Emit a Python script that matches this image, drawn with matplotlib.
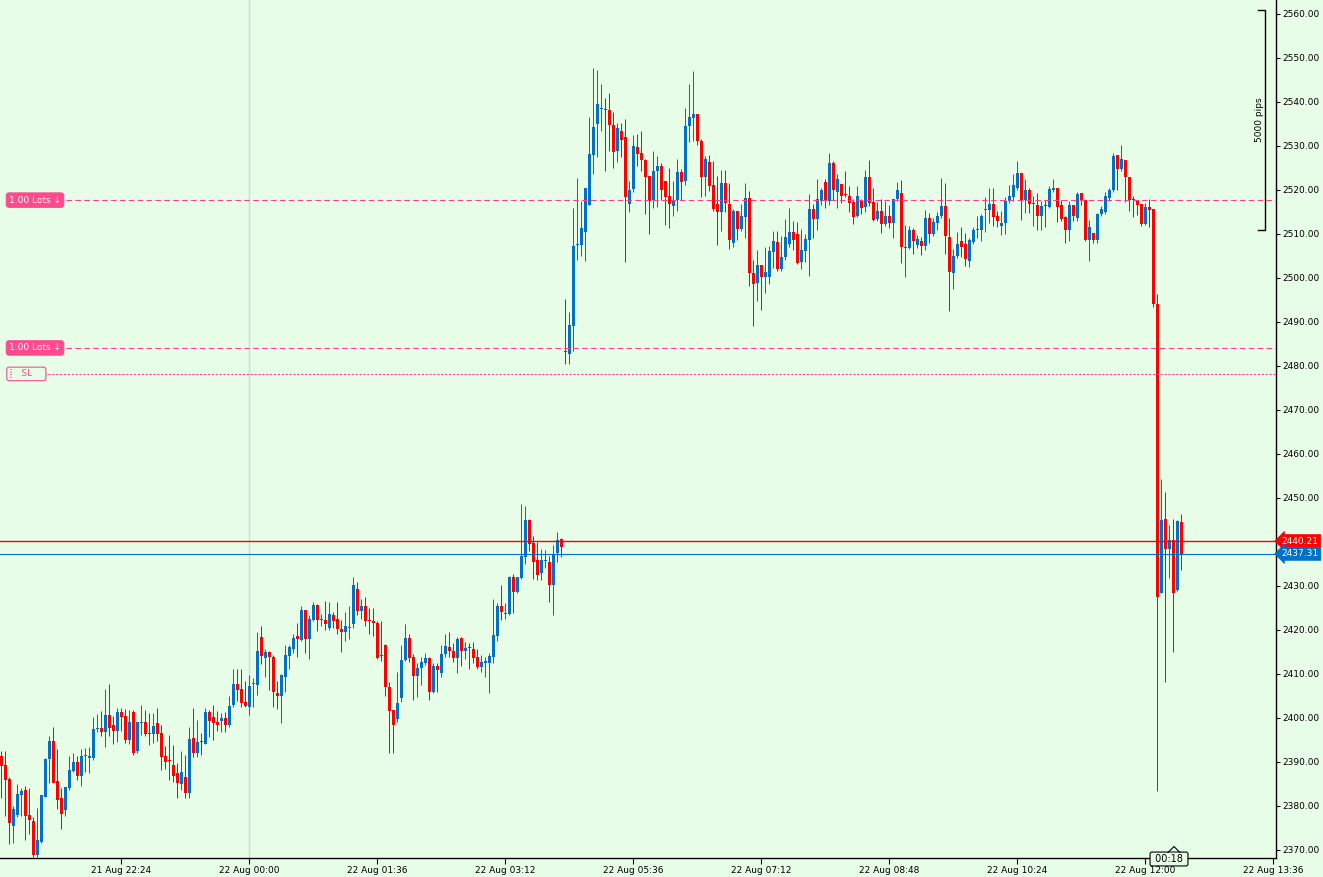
import matplotlib
matplotlib.use("Agg")
import matplotlib.pyplot as plt
from matplotlib.transforms import blended_transform_factory
from matplotlib.lines import Line2D
import numpy as np

opens = [2391.4,2389.3,2386.2,2375.5,2378.0,2382.4,2383.7,2378.0,2376.6,2368.8,
2371.9,2382.1,2390.6,2394.8,2385.7,2381.9,2379.0,2384.2,2388.0,2389.9,
2386.9,2391.3,2391.0,2391.0,2397.4,2397.7,2396.9,2400.7,2398.4,2397.1,
2401.3,2400.5,2394.9,2401.3,2392.4,2398.9,2399.2,2396.4,2396.4,2398.8,
2396.5,2391.4,2390.3,2389.3,2387.4,2385.0,2386.7,2383.0,2395.5,2392.1,
2394.7,2394.2,2401.4,2400.3,2399.2,2399.4,2400.1,2398.3,2402.9,2407.7,
2406.6,2403.6,2402.4,2407.8,2407.4,2418.4,2413.6,2415.0,2413.9,2405.6,
2404.9,2409.4,2414.2,2415.7,2418.6,2417.7,2424.5,2418.0,2422.3,2425.7,
2422.2,2422.3,2420.5,2423.4,2422.5,2420.2,2419.5,2420.5,2421.4,2429.3,
2424.3,2425.5,2422.2,2421.8,2421.7,2414.1,2416.6,2407.1,2401.8,2399.8,
2404.5,2413.2,2418.2,2413.9,2409.6,2411.3,2412.6,2413.6,2406.0,2411.8,
2410.3,2414.5,2416.1,2415.2,2413.7,2418.2,2415.2,2416.0,2415.7,2413.8,
2411.5,2412.6,2412.6,2413.9,2418.7,2425.5,2423.6,2423.6,2432.0,2428.7,
2431.9,2436.7,2445.0,2439.8,2435.9,2432.9,2435.7,2435.5,2430.2,2437.4,
2440.6,2483.2,2482.7,2489.2,2507.4,2507.4,2510.5,2516.6,2528.0,2535.0,
2538.3,2538.2,2538.1,2534.8,2528.9,2533.4,2532.0,2516.8,2520.2,2529.7,
2528.3,2526.8,2523.2,2517.7,2524.3,2525.4,2522.0,2518.6,2516.4,2517.7,
2524.2,2522.1,2534.5,2536.4,2537.3,2531.1,2522.9,2526.4,2521.1,2516.8,
2515.1,2521.7,2516.8,2508.0,2515.2,2511.1,2513.9,2518.2,2501.1,2498.9,
2503.0,2500.3,2500.3,2506.0,2508.2,2502.0,2504.7,2507.8,2510.4,2510.0,
2503.7,2506.1,2508.6,2515.7,2513.4,2517.6,2521.8,2517.6,2526.1,2519.6,
2521.4,2518.9,2518.6,2517.3,2514.1,2517.7,2516.2,2522.9,2517.3,2513.3,
2515.2,2512.2,2514.0,2512.6,2517.9,2519.3,2506.9,2506.9,2510.9,2507.4,
2508.4,2507.3,2513.6,2510.1,2512.6,2514.1,2516.4,2509.3,2501.2,2505.0,
2508.4,2507.7,2503.9,2508.2,2510.8,2510.9,2515.5,2515.5,2516.8,2514.1,
2511.8,2512.4,2517.6,2518.3,2520.5,2523.9,2517.7,2520.0,2516.9,2516.6,
2514.2,2516.4,2516.2,2520.1,2520.4,2516.6,2513.9,2510.9,2516.6,2513.6,
2519.3,2517.7,2508.6,2510.2,2508.6,2514.5,2515.0,2518.1,2520.0,2528.0,
2524.8,2526.8,2522.9,2517.9,2517.7,2516.8,2512.3,2516.1,2515.7,2494.1,
2428.5,2445.3,2438.5,2440.4,2429.0,2444.6]

highs = [2392.4,2392.6,2386.5,2380.0,2385.0,2384.2,2384.6,2384.1,2377.6,2379.6,
2382.6,2391.0,2395.9,2397.9,2392.9,2384.2,2384.4,2391.4,2392.0,2391.4,
2392.9,2393.1,2393.3,2400.3,2400.9,2401.6,2406.6,2407.7,2400.5,2402.2,
2402.2,2402.1,2401.8,2401.8,2399.2,2403.0,2401.8,2401.1,2401.1,2402.2,
2398.4,2393.7,2396.2,2393.9,2389.7,2392.4,2391.6,2398.0,2402.2,2399.6,
2396.7,2402.3,2401.8,2403.0,2401.7,2401.1,2401.4,2405.0,2411.1,2411.1,
2411.1,2408.3,2409.8,2409.2,2419.6,2420.9,2415.6,2415.3,2414.3,2408.4,
2410.0,2416.6,2416.6,2419.0,2421.7,2425.5,2424.6,2423.3,2426.3,2425.8,
2423.6,2426.6,2426.4,2424.2,2426.4,2422.3,2424.0,2425.5,2432.1,2430.8,
2427.0,2427.6,2425.1,2424.9,2422.0,2422.0,2416.8,2408.1,2401.8,2410.5,
2416.6,2421.4,2419.2,2414.6,2412.4,2413.8,2414.7,2413.8,2412.4,2412.4,
2416.6,2419.2,2419.5,2417.0,2418.3,2418.5,2417.3,2417.0,2417.2,2415.7,
2414.3,2413.9,2414.7,2427.0,2426.1,2430.2,2426.1,2432.3,2432.7,2432.0,
2448.6,2448.2,2445.2,2441.4,2440.1,2438.3,2438.2,2436.8,2439.3,2442.2,
2440.8,2495.2,2492.2,2515.8,2522.7,2517.4,2520.4,2536.5,2547.7,2547.3,
2544.2,2541.0,2542.0,2537.8,2535.3,2535.3,2536.1,2522.1,2532.5,2532.7,
2533.4,2527.0,2523.2,2528.9,2527.8,2526.2,2522.0,2525.0,2522.1,2527.0,
2524.7,2538.7,2544.2,2547.0,2537.3,2531.7,2527.7,2528.0,2526.6,2523.2,
2524.5,2524.5,2521.5,2515.7,2515.2,2516.8,2521.7,2519.8,2504.1,2506.4,
2503.0,2507.0,2507.3,2510.7,2510.7,2509.5,2513.4,2515.9,2513.0,2512.7,
2511.1,2510.1,2519.1,2516.8,2522.5,2520.5,2522.5,2528.4,2526.6,2523.7,
2521.4,2524.3,2520.8,2517.9,2521.0,2517.9,2524.5,2526.8,2520.5,2517.3,
2518.0,2517.5,2516.6,2518.0,2521.8,2522.2,2512.0,2511.9,2511.3,2509.7,
2509.4,2515.4,2514.7,2513.7,2514.9,2522.7,2521.5,2513.6,2506.6,2510.4,
2511.5,2510.3,2509.0,2511.5,2514.1,2514.5,2518.3,2520.4,2520.4,2515.2,
2515.2,2518.5,2521.1,2523.6,2526.6,2523.9,2522.6,2520.4,2518.6,2519.4,
2517.5,2517.7,2521.0,2522.4,2520.4,2517.7,2514.1,2517.5,2516.6,2519.6,
2519.3,2517.7,2513.2,2510.3,2514.7,2516.4,2519.6,2520.4,2528.5,2528.0,
2530.2,2526.8,2522.9,2518.6,2517.7,2516.8,2517.0,2517.9,2515.7,2496.4,
2454.3,2451.3,2443.8,2445.3,2445.1,2446.3]

lows = [2381.8,2377.8,2371.3,2371.7,2377.6,2377.8,2372.3,2373.6,2368.3,2368.3,
2371.7,2382.0,2385.3,2385.3,2379.3,2374.7,2377.8,2383.7,2387.8,2385.9,
2384.6,2387.8,2387.4,2390.5,2396.9,2395.9,2393.3,2395.9,2394.0,2394.6,
2397.0,2394.3,2394.1,2391.5,2392.1,2396.2,2395.9,2393.9,2394.4,2394.8,
2388.2,2388.4,2385.9,2385.5,2381.9,2383.7,2381.8,2381.8,2391.1,2391.1,
2391.6,2394.2,2395.7,2395.0,2397.1,2396.9,2396.9,2398.0,2402.4,2403.9,
2402.6,2402.4,2400.7,2402.6,2405.2,2412.3,2409.4,2406.4,2402.6,2402.1,
2398.9,2405.8,2411.1,2414.7,2413.9,2417.5,2414.7,2413.4,2422.0,2419.8,
2421.0,2419.9,2419.9,2420.5,2419.0,2414.9,2417.5,2418.0,2420.5,2423.5,
2422.5,2421.0,2419.1,2418.7,2413.4,2413.0,2405.0,2392.0,2392.1,2399.0,
2403.7,2413.0,2412.8,2404.1,2404.8,2407.5,2412.0,2404.1,2405.6,2406.0,
2409.4,2413.9,2413.9,2412.8,2410.2,2411.9,2413.5,2411.1,2412.5,2411.1,
2410.5,2409.4,2405.6,2412.4,2417.6,2422.3,2422.5,2423.3,2423.9,2428.3,
2431.7,2435.0,2438.0,2431.6,2431.4,2431.4,2434.2,2426.4,2423.4,2435.5,
2436.7,2480.5,2480.4,2483.3,2504.1,2505.0,2503.9,2516.6,2523.6,2527.4,
2533.5,2524.4,2528.9,2525.1,2526.4,2527.6,2503.7,2514.9,2519.6,2525.4,
2524.4,2514.5,2510.0,2516.0,2516.2,2517.7,2512.0,2511.4,2514.1,2515.3,
2517.7,2521.1,2531.0,2531.2,2530.2,2518.3,2518.6,2519.8,2515.2,2507.5,
2510.7,2514.9,2506.7,2507.1,2508.6,2510.7,2509.2,2498.2,2489.2,2494.8,
2492.7,2496.7,2498.6,2502.3,2501.5,2501.5,2504.0,2507.0,2506.4,2503.2,
2502.0,2503.6,2500.5,2509.2,2510.8,2516.7,2515.8,2516.7,2517.7,2516.0,
2517.0,2518.5,2515.1,2512.3,2513.8,2514.5,2515.1,2516.4,2512.9,2513.0,
2510.3,2511.8,2511.3,2509.2,2517.5,2503.5,2500.3,2506.5,2505.4,2506.8,
2505.2,2506.4,2507.9,2509.5,2510.9,2513.6,2505.5,2492.6,2497.5,2504.5,
2504.8,2502.7,2502.6,2507.8,2509.2,2508.3,2510.5,2512.6,2511.8,2511.7,
2509.8,2510.1,2517.0,2517.6,2520.0,2513.2,2514.8,2514.8,2511.8,2510.8,
2510.9,2511.5,2515.8,2519.5,2512.8,2513.0,2508.0,2508.5,2513.0,2513.0,
2516.7,2508.5,2503.9,2508.0,2507.9,2514.0,2514.5,2517.6,2519.6,2520.0,
2524.3,2517.2,2515.2,2513.9,2514.3,2511.8,2512.0,2511.7,2493.5,2383.5,
2428.3,2408.2,2431.9,2415.0,2428.8,2433.7]

closes = [2389.1,2385.9,2376.2,2379.3,2382.7,2383.4,2377.8,2376.8,2368.8,2372.3,
2382.5,2390.7,2394.8,2385.3,2381.4,2378.2,2384.3,2388.2,2389.9,2386.9,
2391.4,2391.4,2391.1,2397.5,2397.5,2396.9,2400.7,2397.8,2397.1,2401.3,
2400.3,2395.0,2399.2,2392.1,2399.0,2399.0,2396.3,2396.3,2398.2,2396.4,
2391.2,2390.1,2390.2,2386.8,2385.3,2387.8,2382.9,2395.2,2392.1,2394.6,
2394.6,2401.4,2399.4,2398.9,2398.4,2400.1,2398.3,2402.7,2407.7,2406.4,
2403.5,2402.8,2407.3,2407.9,2415.2,2414.2,2415.0,2413.8,2405.8,2405.0,
2409.8,2414.3,2416.1,2418.1,2418.0,2424.5,2417.9,2422.5,2425.7,2422.3,
2422.3,2421.4,2423.6,2422.0,2420.2,2419.5,2420.8,2420.6,2430.2,2424.3,
2425.5,2422.0,2422.1,2421.7,2413.6,2414.0,2407.1,2401.7,2398.4,2403.5,
2413.2,2418.2,2413.7,2409.6,2411.4,2412.7,2413.6,2406.0,2411.8,2410.9,
2414.5,2416.4,2415.2,2413.7,2418.0,2415.2,2415.9,2415.9,2413.7,2411.5,
2412.7,2412.7,2414.2,2418.9,2425.5,2424.2,2423.7,2432.0,2428.7,2432.0,
2436.8,2445.0,2439.5,2435.5,2432.5,2435.9,2435.8,2430.2,2437.3,2440.5,
2438.9,2483.1,2489.3,2507.3,2507.5,2511.3,2520.4,2528.1,2534.4,2539.5,
2538.4,2538.1,2534.8,2528.7,2534.0,2531.4,2518.5,2520.1,2530.0,2528.2,
2526.8,2523.0,2517.6,2524.3,2525.4,2520.0,2518.5,2516.8,2517.7,2524.2,
2521.9,2534.5,2536.7,2537.3,2531.1,2522.9,2527.0,2520.9,2515.7,2515.1,
2521.7,2517.0,2508.6,2515.2,2511.1,2514.2,2518.1,2501.1,2498.6,2503.0,
2500.3,2501.3,2506.1,2508.4,2502.0,2504.8,2509.3,2510.4,2508.6,2503.5,
2506.4,2508.9,2515.7,2513.4,2517.9,2520.0,2517.7,2526.1,2520.0,2522.5,
2518.7,2518.8,2517.1,2513.9,2518.6,2516.0,2522.9,2517.1,2513.2,2515.2,
2512.2,2514.2,2512.6,2517.9,2519.9,2507.1,2507.0,2510.9,2508.4,2508.9,
2507.3,2513.6,2510.1,2512.7,2514.1,2516.4,2509.6,2501.4,2505.0,2507.7,
2507.1,2504.3,2508.6,2510.9,2510.9,2514.2,2515.6,2516.8,2513.9,2513.0,
2512.6,2517.6,2518.6,2521.1,2523.9,2517.7,2520.0,2516.8,2517.0,2514.2,
2516.4,2516.3,2520.2,2520.2,2516.2,2513.3,2510.9,2516.6,2514.1,2519.1,
2517.7,2508.6,2511.5,2508.6,2514.5,2515.7,2518.6,2520.0,2527.7,2524.8,
2527.0,2522.9,2517.7,2517.8,2516.6,2512.3,2516.1,2515.4,2494.1,2427.6,
2445.0,2438.5,2440.4,2428.4,2444.8,2437.3]

tick_bars = [30, 62, 94, 126, 158, 190, 222, 254, 286, 318]
tick_labels = ["21 Aug 22:24", "22 Aug 00:00", "22 Aug 01:36", "22 Aug 03:12",
               "22 Aug 05:36", "22 Aug 07:12", "22 Aug 08:48", "22 Aug 10:24",
               "22 Aug 12:00", "22 Aug 13:36"]
price_ticks = list(range(2370, 2561, 10))
ask_price = 2440.21
bid_price = 2437.31
order_levels = [2517.7, 2484.1]
order_label = "1.00 Lots \u2193"
sl_level = 2478.2
day_separator_bar = 62
pips_range = (2510.9, 2560.9)
pips_label = "5000 pips"
timer_label = "00:18"

BG = "#e8fde8"
UP = "#0070c8"
DOWN = "#ff0000"
PINK = "#ff3f8c"

W, H = 1323, 877
fig = plt.figure(figsize=(W / 100, H / 100), dpi=100, facecolor=BG)
ax = fig.add_axes([0, 19 / H, 1276 / W, 858 / H])
ax.set_facecolor(BG)

o = np.array(opens); h = np.array(highs); l = np.array(lows); c = np.array(closes)
h = np.maximum(h, np.maximum(o, c)); l = np.minimum(l, np.minimum(o, c))
x = np.arange(len(o))
cols = [UP if cc >= oo else DOWN for oo, cc in zip(o, c)]

ax.axvline(day_separator_bar, color="#c9ddd6", lw=1.0, zorder=0)

ax.vlines(x, l, h, colors=cols, lw=0.72, zorder=2, snap=True)
body_h = np.maximum(np.abs(c - o), 0.25)
ax.bar(x, body_h, bottom=np.minimum(o, c), width=0.75, color=cols,
       linewidth=0, zorder=3)

# price lines
ax.axhline(ask_price, color="#ff0000", lw=1.0, zorder=4)
ax.axhline(bid_price, color=UP, lw=0.8, zorder=4)

# order lines
trans_lbl = blended_transform_factory(ax.transAxes, ax.transData)
for lv in order_levels:
    ax.plot([66 / 1276, 1], [lv, lv], transform=trans_lbl, color=PINK,
            lw=0.8, dashes=(5, 3), zorder=4)
    ax.text(9 / 1276, lv, order_label, transform=trans_lbl, ha="left",
            va="center", fontsize=6.5, color="white", zorder=6,
            bbox=dict(boxstyle="round,pad=0.3,rounding_size=0.3",
                      fc="#ff4a8d", ec="#ff4a8d", lw=0.8))
ax.plot([44 / 1276, 1], [sl_level, sl_level], transform=trans_lbl,
        color=PINK, lw=0.8, dashes=(2, 1.5), zorder=4)
ax.text(9 / 1276, sl_level, "\u2847  SL    ", transform=trans_lbl, ha="left",
        va="center", fontsize=6.5, color="#ff4a8d", zorder=6,
        bbox=dict(boxstyle="round,pad=0.25,rounding_size=0.25",
                  fc=BG, ec="#ff4a8d", lw=0.8))

# price tags
for val, col in [(ask_price, "#ff0000"), (bid_price, UP)]:
    ax.text(1.0045, val, f"{val:.2f}", transform=trans_lbl, ha="left",
            va="center", fontsize=6.5, color="white", zorder=7, clip_on=False,
            bbox=dict(boxstyle="larrow,pad=0.22", fc=col, ec=col, lw=0.5))

# 5000 pips bracket
px_to_bar = lambda px: (px - 1.3) / 4.0
xb = px_to_bar(1265); xe = px_to_bar(1258)
ax.plot([xe, xb, xb, xe], [pips_range[1], pips_range[1], pips_range[0], pips_range[0]],
        color="black", lw=1.0, zorder=5)
ax.text(px_to_bar(1263.5), (pips_range[0] + pips_range[1]) / 2, pips_label,
        rotation=90, ha="right", va="center", fontsize=6.5, color="black")

ax.set_xlim(-0.33, 318.675)
ax.set_ylim(2368.18, 2563.18)

ax.yaxis.tick_right()
ax.set_yticks(price_ticks)
ax.set_yticklabels([f"{v:.2f}" for v in price_ticks])
ax.tick_params(axis="y", direction="out", length=3, width=0.8, pad=1.5,
               labelsize=6.5, colors="black")
ax.set_xticks(tick_bars)
ax.set_xticklabels(tick_labels)
ax.tick_params(axis="x", direction="out", length=4, width=0.8, pad=1.5,
               labelsize=6.5, colors="black")
for s in ["top", "left"]:
    ax.spines[s].set_visible(False)
for s in ["right", "bottom"]:
    ax.spines[s].set_color("black")
    ax.spines[s].set_linewidth(1.0)

# countdown timer with caret
fig.text(1169 / W, 1 - 859 / H, " " + timer_label + " ", ha="center", va="center",
         fontsize=7, color="black", zorder=10,
         bbox=dict(boxstyle="round,pad=0.2,rounding_size=0.2", fc=BG,
                   ec="black", lw=0.8))
cx = [1168 / W, 1174 / W, 1180 / W]
cy = [1 - 852.5 / H, 1 - 846.5 / H, 1 - 852.5 / H]
fig.add_artist(Line2D(cx, cy, color="black", lw=0.8, zorder=11))
fig.add_artist(Line2D([1169 / W, 1179 / W], [1 - 853 / H, 1 - 853 / H],
                      color=BG, lw=0.9, zorder=11))

fig.savefig("out.png", dpi=100, facecolor=BG)
